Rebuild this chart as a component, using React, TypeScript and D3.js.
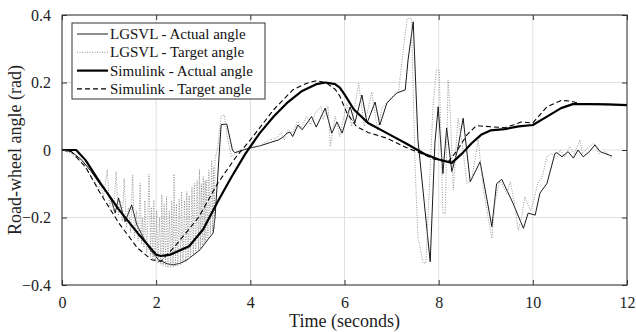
import { useRef, useEffect } from 'react';
import * as d3 from 'd3';

// x ticks / y ticks
const xTicks = [0, 2, 4, 6, 8, 10, 12];
const yTicks = [-0.4, -0.2, 0, 0.2, 0.4];

// Simulink - Actual angle
const simActualT = [0, 0.3, 0.5, 0.8, 1.2, 1.6, 2.0, 2.1, 2.3, 2.7, 3.0, 3.3, 3.6, 3.9, 4.2, 4.5, 4.8, 5.1, 5.4, 5.6, 5.8, 5.9, 6.0, 6.2, 6.5, 6.9, 7.3, 7.7, 8.0, 8.28, 8.5, 8.7, 8.9, 9.1, 9.4, 9.7, 10.0, 10.3, 10.6, 10.85, 11.2, 11.6, 12.0];
const simActualV = [0, 0, -0.03, -0.095, -0.175, -0.245, -0.31, -0.314, -0.31, -0.285, -0.235, -0.155, -0.08, -0.01, 0.05, 0.1, 0.142, 0.175, 0.195, 0.2, 0.195, 0.185, 0.165, 0.12, 0.08, 0.05, 0.02, -0.012, -0.028, -0.038, -0.01, 0.02, 0.045, 0.058, 0.062, 0.07, 0.074, 0.099, 0.124, 0.136, 0.136, 0.135, 0.133];

// Simulink - Target angle
const simTargetT = [0, 0.2, 0.5, 0.8, 1.2, 1.6, 1.9, 2.1, 2.4, 2.9, 3.3, 3.7, 4.0, 4.5, 4.9, 5.2, 5.4, 5.6, 5.8, 5.9, 6.05, 6.25, 6.5, 6.9, 7.3, 7.6, 7.9, 8.2, 8.4, 8.6, 8.8, 9.0, 9.4, 9.6, 9.75, 10.0, 10.3, 10.6, 10.8, 11.0, 11.5, 12];
const simTargetV = [0, -0.005, -0.05, -0.125, -0.215, -0.29, -0.325, -0.33, -0.285, -0.2, -0.1, -0.02, 0.03, 0.12, 0.178, 0.198, 0.205, 0.2, 0.18, 0.16, 0.11, 0.07, 0.052, 0.035, 0.008, -0.009, -0.027, -0.036, 0.0, 0.045, 0.072, 0.07, 0.066, 0.075, 0.083, 0.08, 0.128, 0.147, 0.145, 0.138, 0.135, 0.133];

// LGSVL - Actual angle
const lgActualT = [0, 0.2, 0.4, 0.6, 0.8, 0.95, 1.05, 1.13, 1.2, 1.34, 1.48, 1.59, 1.75, 1.87, 2.05, 2.23, 2.36, 2.5, 2.65, 2.8, 2.93, 3.1, 3.21, 3.25, 3.38, 3.5, 3.62, 3.67, 3.8, 3.99, 4.2, 4.42, 4.6, 4.7, 4.78, 4.84, 4.9, 5.01, 5.1, 5.23, 5.3, 5.4, 5.59, 5.73, 5.84, 5.95, 6.12, 6.22, 6.37, 6.48, 6.65, 6.75, 6.9, 7.11, 7.29, 7.35, 7.46, 7.56, 7.82, 7.92, 7.99, 8.09, 8.17, 8.28, 8.4, 8.52, 8.67, 8.88, 9.13, 9.23, 9.34, 9.58, 9.8, 9.9, 10.05, 10.15, 10.3, 10.47, 10.51, 10.62, 10.75, 10.86, 10.96, 11.07, 11.2, 11.32, 11.43, 11.68];
const lgActualV = [0, -0.005, -0.027, -0.06, -0.1, -0.125, -0.15, -0.187, -0.142, -0.213, -0.163, -0.222, -0.265, -0.296, -0.325, -0.337, -0.34, -0.336, -0.326, -0.31, -0.296, -0.265, -0.246, -0.2, 0.075, 0.077, 0.0, -0.008, -0.002, 0.006, 0.012, 0.022, 0.03, 0.039, 0.05, 0.053, 0.04, 0.074, 0.06, 0.085, 0.099, 0.068, 0.124, 0.05, 0.083, 0.05, 0.128, 0.08, 0.163, 0.08, 0.142, 0.074, 0.139, 0.169, 0.178, 0.267, 0.38, 0.03, -0.331, 0.02, 0.128, -0.07, 0.065, -0.064, 0.0, 0.094, -0.094, -0.035, -0.227, -0.1, -0.087, -0.158, -0.232, -0.187, -0.193, -0.128, -0.099, -0.01, -0.008, -0.02, -0.005, -0.024, 0, -0.02, -0.005, 0.015, -0.005, -0.018];

// LGSVL - Target angle
const lgTargetT = [0, 0.2, 0.4, 0.6, 0.75,
  0.78, 0.81, 0.88, 0.96, 1.01, 1.06, 1.1, 1.15, 1.2, 1.24, 1.28, 1.32, 1.37, 1.41, 1.46, 1.5, 1.54, 1.58, 1.62, 1.66,
  1.69, 1.71, 1.74, 1.76, 1.8, 1.85, 1.88, 1.9, 1.93, 1.95, 1.98, 2.01, 2.04, 2.07, 2.1, 2.12, 2.15, 2.17, 2.2, 2.22,
  2.25, 2.28, 2.31, 2.33, 2.36, 2.38, 2.41, 2.43, 2.46, 2.49, 2.52, 2.54, 2.57, 2.6, 2.63, 2.65, 2.68, 2.7, 2.73, 2.76,
  2.79, 2.81, 2.84, 2.87, 2.9, 2.92, 2.94, 2.96, 2.98, 3.0, 3.02, 3.04, 3.055, 3.07, 3.1, 3.12, 3.15, 3.18, 3.2, 3.22, 3.235, 3.25,
  3.3, 3.38, 3.45, 3.52, 3.6, 3.7, 3.9, 4.2, 4.4, 4.55, 4.65, 4.72, 4.8, 4.9, 5.0, 5.08, 5.2, 5.28, 5.38, 5.5, 5.55, 5.65, 5.7, 5.8, 5.9,
  6.05, 6.15, 6.3, 6.42, 6.58, 6.7, 6.8, 6.95, 7.15, 7.25, 7.33, 7.42, 7.5, 7.56, 7.67, 7.73, 7.88, 7.95, 8.01, 8.09, 8.14, 8.2, 8.25,
  8.31, 8.41, 8.5, 8.6, 8.7, 8.84, 8.95, 9.13, 9.2, 9.3, 9.45, 9.52, 9.6, 9.69, 9.76, 9.83, 9.95, 10.02, 10.1, 10.2, 10.3, 10.4, 10.5,
  10.58, 10.68, 10.78, 10.88, 11.0, 11.05, 11.15, 11.3, 11.4, 11.55, 11.68];
const lgTargetV = [0, -0.01, -0.035, -0.075, -0.105,
  -0.12, -0.089, -0.14, -0.059, -0.165, -0.14, -0.18, -0.064, -0.195, -0.15, -0.21, -0.084, -0.23, -0.17, -0.245, -0.074, -0.26, -0.18, -0.27, -0.099,
  -0.28, -0.2, -0.29, -0.15, -0.305, -0.071, -0.315, -0.17, -0.322, -0.148, -0.33, -0.18, -0.336, -0.2, -0.34, -0.133, -0.344, -0.16, -0.346, -0.138,
  -0.348, -0.18, -0.348, -0.15, -0.347, -0.071, -0.345, -0.16, -0.343, -0.145, -0.34, -0.123, -0.336, -0.15, -0.332, -0.123, -0.326, -0.135, -0.32, -0.11,
  -0.313, -0.099, -0.306, -0.09, -0.298, -0.057, -0.29, -0.1, -0.282, -0.079, -0.275, -0.09, -0.27, -0.089, -0.26, -0.06, -0.25, -0.03, -0.24, -0.05, -0.235, -0.025,
  0.0, 0.1, 0.104, 0.03, -0.02, -0.01, 0.004, 0.012, 0.03, 0.035, 0.05, 0.03, 0.06, 0.05, 0.085, 0.065, 0.1, 0.075, 0.11, 0.13, 0.09, 0.13, 0.01, 0.1, 0.04,
  0.14, 0.07, 0.198, 0.07, 0.172, 0.06, 0.125, 0.15, 0.175, 0.3, 0.39, 0.39, -0.05, -0.258, -0.335, -0.335, 0.128, 0.237, 0.237, -0.187, -0.19, 0.207, 0.1,
  -0.119, 0.094, 0.02, -0.099, -0.09, 0.03, -0.12, -0.262, -0.15, -0.09, -0.13, -0.094, -0.15, -0.237, -0.2, -0.139, -0.18, -0.15, -0.099, -0.08, -0.02, -0.01, -0.025,
  0.0, -0.02, 0.01, -0.01, 0.03, -0.01, 0.005, 0.02, -0.01, -0.005, -0.025];

const legendLabels = ['LGSVL - Actual angle', 'LGSVL - Target angle', 'Simulink - Actual angle', 'Simulink - Target angle'];

const FONT = '"Liberation Serif", "Times New Roman", serif';

const series = [
  { t: lgActualT, v: lgActualV, stroke: '#000', width: 0.9, dash: null as string | null },
  { t: lgTargetT, v: lgTargetV, stroke: '#8a8a8a', width: 0.9, dash: '1,1.5' },
  { t: simActualT, v: simActualV, stroke: '#000', width: 2.2, dash: null },
  { t: simTargetT, v: simTargetV, stroke: '#000', width: 1.1, dash: '5,3' },
];

export default function App() {
  const svgRef = useRef<SVGSVGElement>(null);

  useEffect(() => {
    const svg = d3.select(svgRef.current);
    svg.selectAll('*').remove();

    const width = 636;
    const height = 332;
    const margin = { top: 15, right: 9, bottom: 47, left: 62 };
    const innerWidth = width - margin.left - margin.right;
    const innerHeight = height - margin.top - margin.bottom;

    const x = d3.scaleLinear().domain([0, 12]).range([0, innerWidth]);
    const y = d3.scaleLinear().domain([-0.4, 0.4]).range([innerHeight, 0]);

    svg.append('rect').attr('width', width).attr('height', height).attr('fill', '#fff');

    svg.append('defs')
      .append('clipPath')
      .attr('id', 'plot-clip')
      .append('rect')
      .attr('width', innerWidth)
      .attr('height', innerHeight);

    const g = svg.append('g').attr('transform', `translate(${margin.left},${margin.top})`);

    // grid
    g.append('g')
      .selectAll('line')
      .data(xTicks)
      .join('line')
      .attr('x1', (d) => x(d)).attr('x2', (d) => x(d))
      .attr('y1', 0).attr('y2', innerHeight)
      .attr('stroke', '#dfdfdf').attr('stroke-width', 1);
    g.append('g')
      .selectAll('line')
      .data(yTicks)
      .join('line')
      .attr('x1', 0).attr('x2', innerWidth)
      .attr('y1', (d) => y(d)).attr('y2', (d) => y(d))
      .attr('stroke', '#dfdfdf').attr('stroke-width', 1);

    // data lines
    const chart = g.append('g').attr('clip-path', 'url(#plot-clip)');
    series.forEach((s) => {
      const pts = s.t.map((t, i) => [t, s.v[i]] as [number, number]);
      const line = d3.line<[number, number]>().x((d) => x(d[0])).y((d) => y(d[1]));
      chart.append('path')
        .attr('d', line(pts))
        .attr('fill', 'none')
        .attr('stroke', s.stroke)
        .attr('stroke-width', s.width)
        .attr('stroke-dasharray', s.dash)
        .attr('stroke-linejoin', 'round');
    });

    // axes: box with inward ticks on all sides
    const axisColor = '#333';
    const tickLen = 5;
    const styleAxis = (sel: d3.Selection<SVGGElement, unknown, null, undefined>) => {
      sel.select('.domain').remove();
      sel.selectAll('line').attr('stroke', axisColor);
      sel.selectAll('text').attr('fill', '#222').style('font-family', FONT).style('font-size', '16px');
    };

    g.append('g')
      .attr('transform', `translate(0,${innerHeight})`)
      .call(d3.axisBottom(x).tickValues(xTicks).tickFormat(d3.format('d')).tickSizeInner(-tickLen).tickSizeOuter(0).tickPadding(12))
      .call(styleAxis);
    g.append('g')
      .call(d3.axisTop(x).tickValues(xTicks).tickFormat(() => '').tickSizeInner(-tickLen).tickSizeOuter(0))
      .call(styleAxis);
    g.append('g')
      .call(d3.axisLeft(y).tickValues(yTicks).tickFormat((d) => (d === 0 ? '0' : d3.format('.1f')(d as number))).tickSizeInner(-tickLen).tickSizeOuter(0).tickPadding(11))
      .call(styleAxis);
    g.append('g')
      .attr('transform', `translate(${innerWidth},0)`)
      .call(d3.axisRight(y).tickValues(yTicks).tickFormat(() => '').tickSizeInner(-tickLen).tickSizeOuter(0))
      .call(styleAxis);

    g.append('rect')
      .attr('width', innerWidth).attr('height', innerHeight)
      .attr('fill', 'none').attr('stroke', axisColor).attr('stroke-width', 1);

    // axis labels
    svg.append('text')
      .attr('x', margin.left + innerWidth / 2)
      .attr('y', 327)
      .attr('text-anchor', 'middle')
      .attr('fill', '#222')
      .style('font-family', FONT).style('font-size', '18px')
      .text('Time (seconds)');
    svg.append('text')
      .attr('transform', `translate(21,${margin.top + innerHeight / 2}) rotate(-90)`)
      .attr('text-anchor', 'middle')
      .attr('fill', '#222')
      .style('font-family', FONT).style('font-size', '18px')
      .text('Road-wheel angle (rad)');

    // legend
    const lg = svg.append('g').attr('transform', 'translate(72,23)');
    lg.append('rect').attr('width', 193).attr('height', 76)
      .attr('fill', '#fff').attr('stroke', axisColor).attr('stroke-width', 1);
    legendLabels.forEach((label, i) => {
      const s = series[i];
      const cy = 11 + i * 18.3;
      lg.append('line')
        .attr('x1', 5).attr('x2', 36).attr('y1', cy).attr('y2', cy)
        .attr('stroke', s.stroke).attr('stroke-width', s.width)
        .attr('stroke-dasharray', s.dash);
      lg.append('text')
        .attr('x', 38).attr('y', cy + 5)
        .attr('fill', '#111')
        .style('font-family', FONT).style('font-size', '15px')
        .text(label);
    });
  }, []);

  return (
    <svg ref={svgRef} width={636} height={332} style={{ position: 'absolute', left: 0, top: 0 }} />
  );
}
